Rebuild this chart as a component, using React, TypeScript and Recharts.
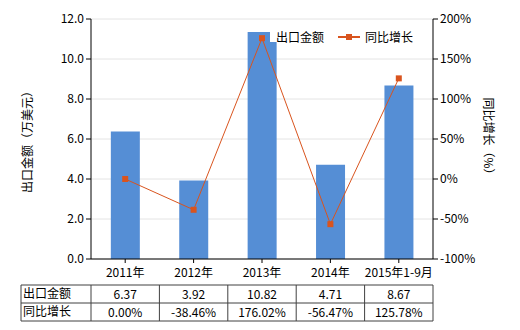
import { ComposedChart, Bar, Line, XAxis, YAxis, CartesianGrid } from 'recharts';

const categories = ['2011年', '2012年', '2013年', '2014年', '2015年1-9月'];
// values printed in the table
const exportValues = [6.37, 3.92, 10.82, 4.71, 8.67];
// bar heights as drawn in the picture (the 2013 bar stands taller than its table value)
const barHeights = [6.37, 3.92, 11.35, 4.71, 8.67];
const growthRates = [0.0, -38.46, 176.02, -56.47, 125.78];
const leftTicks = [0, 2, 4, 6, 8, 10, 12];
const rightTicks = [-100, -50, 0, 50, 100, 150, 200];

const barName = '出口金额';
const lineName = '同比增长';
const barColor = '#558ed5';
const lineColor = '#d9541e';
const font = '"Noto Sans CJK SC", "DejaVu Sans", sans-serif';

const chartData = categories.map((name, i) => ({
  name,
  value: barHeights[i],
  rate: growthRates[i],
}));

const SquareDot = (props: any) => {
  const { cx, cy } = props;
  if (cx == null || cy == null) return null;
  return <rect x={cx - 3} y={cy - 3} width={6} height={6} fill={lineColor} />;
};

const LegendBox = () => (
  <div style={{ position: 'absolute', left: 270, top: 32, height: 10, lineHeight: '10px', display: 'flex', alignItems: 'center', fontSize: 12, fontFamily: font, color: '#000', background: '#fff', padding: '0 4px 0 6px' }}>
    <span>{barName}</span>
    <svg width={22} height={10} style={{ marginLeft: 14, marginRight: 5 }}>
      <line x1={0} y1={5} x2={22} y2={5} stroke={lineColor} strokeWidth={2} />
      <rect x={8} y={2} width={6} height={6} fill={lineColor} />
    </svg>
    <span>{lineName}</span>
  </div>
);

// table under the chart, columns follow the plot categories
const plotLeft = 91;
const plotRight = 433;
const tableLeft = 21;
const tableTop = 285;
const rowH = 18;

const DataTable = () => {
  const colW = (plotRight - plotLeft) / categories.length;
  const rows = [
    { label: barName, cells: exportValues.map((v) => v.toFixed(2)) },
    { label: lineName, cells: growthRates.map((v) => v.toFixed(2) + '%') },
  ];
  return (
    <svg width={520} height={60} style={{ position: 'absolute', left: 0, top: tableTop - 1 }}>
      <g fontFamily={font} fontSize={12} fill="#000">
        {[0, 1, 2].map((r) => (
          <line key={'h' + r} x1={tableLeft} x2={plotRight} y1={1 + r * rowH} y2={1 + r * rowH} stroke="#404040" />
        ))}
        <line x1={tableLeft} x2={tableLeft} y1={1} y2={1 + 2 * rowH} stroke="#404040" />
        {categories.map((_, i) => (
          <line key={'v' + i} x1={plotLeft + (i + 1) * colW} x2={plotLeft + (i + 1) * colW} y1={1} y2={1 + 2 * rowH} stroke="#404040" />
        ))}
        <line x1={plotLeft} x2={plotLeft} y1={1} y2={1 + 2 * rowH} stroke="#404040" />
        {rows.map((row, r) => (
          <g key={row.label}>
            <text x={tableLeft + 2} y={1 + r * rowH + 13}>{row.label}</text>
            {row.cells.map((c, i) => (
              <text key={i} x={plotLeft + (i + 0.5) * colW} y={1 + r * rowH + 14} textAnchor="middle">{c}</text>
            ))}
          </g>
        ))}
      </g>
    </svg>
  );
};

export default function App() {
  return (
    <div style={{ position: 'absolute', left: 0, top: 0, width: 520, height: 330, background: '#fff', fontFamily: font }}>
      <ComposedChart width={520} height={330} data={chartData} margin={{ top: 19, right: 0, bottom: 0, left: 0 }} barCategoryGap="29%">
        <CartesianGrid horizontal vertical={false} stroke="#e4e4e4" yAxisId="left" />
        <XAxis
          dataKey="name"
          height={71}
          tick={{ fontSize: 12, fill: '#000', fontFamily: font }}
          tickLine={{ stroke: '#000' }}
          axisLine={{ stroke: '#000' }}
          tickSize={4}
          tickMargin={5}
          interval={0}
        />
        <YAxis
          yAxisId="left"
          width={91}
          domain={[0, 12]}
          ticks={leftTicks}
          tickFormatter={(v: number) => v.toFixed(1)}
          tick={{ fontSize: 12, fill: '#000', fontFamily: font }}
          tickLine={{ stroke: '#000' }}
          axisLine={{ stroke: '#000' }}
          tickSize={5}
          label={{ value: '出口金额（万美元）', angle: -90, position: 'insideLeft', offset: 28, style: { fontSize: 12, fill: '#000', fontFamily: font, textAnchor: 'middle' } }}
        />
        <YAxis
          yAxisId="right"
          orientation="right"
          width={87}
          domain={[-100, 200]}
          ticks={rightTicks}
          tickFormatter={(v: number) => v + '%'}
          tick={{ fontSize: 12, fill: '#000', fontFamily: font }}
          tickLine={{ stroke: '#000' }}
          axisLine={{ stroke: '#000' }}
          tickSize={5}
          label={{ value: '同比增长（%）', angle: 90, position: 'insideRight', offset: 32, style: { fontSize: 12, fill: '#000', fontFamily: font, textAnchor: 'middle' } }}
        />
        <Bar yAxisId="left" dataKey="value" name={barName} fill={barColor} isAnimationActive={false} />
        <Line
          yAxisId="right"
          dataKey="rate"
          name={lineName}
          stroke={lineColor}
          strokeWidth={1}
          dot={<SquareDot />}
          activeDot={false}
          isAnimationActive={false}
        />
      </ComposedChart>
      <LegendBox />
      <DataTable />
    </div>
  );
}
